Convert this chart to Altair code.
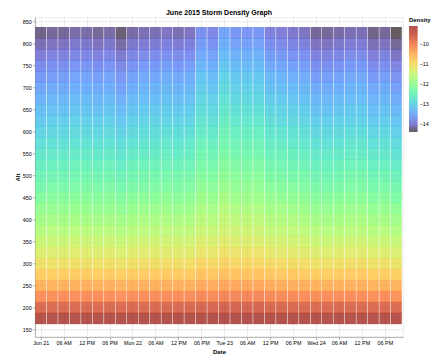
import altair as alt
import pandas as pd

# Time columns (3-hourly, local time) and altitude rows (km)
times = [
    "2015-06-21T00:00:00", "2015-06-21T03:00:00", "2015-06-21T06:00:00", "2015-06-21T09:00:00",
    "2015-06-21T12:00:00", "2015-06-21T15:00:00", "2015-06-21T18:00:00", "2015-06-21T21:00:00",
    "2015-06-22T00:00:00", "2015-06-22T03:00:00", "2015-06-22T06:00:00", "2015-06-22T09:00:00",
    "2015-06-22T12:00:00", "2015-06-22T15:00:00", "2015-06-22T18:00:00", "2015-06-22T21:00:00",
    "2015-06-23T00:00:00", "2015-06-23T03:00:00", "2015-06-23T06:00:00", "2015-06-23T09:00:00",
    "2015-06-23T12:00:00", "2015-06-23T15:00:00", "2015-06-23T18:00:00", "2015-06-23T21:00:00",
    "2015-06-24T00:00:00", "2015-06-24T03:00:00", "2015-06-24T06:00:00", "2015-06-24T09:00:00",
    "2015-06-24T12:00:00", "2015-06-24T15:00:00", "2015-06-24T18:00:00", "2015-06-24T21:00:00",
]
altitudes = [175, 200, 225, 250, 275, 300, 325, 350, 375, 400, 425, 450, 475, 500,
             525, 550, 575, 600, 625, 650, 675, 700, 725, 750, 775, 800, 825]

# x-axis tick positions (every 6 hours)
tick_times = [
    "2015-06-21T00:00:00", "2015-06-21T06:00:00", "2015-06-21T12:00:00", "2015-06-21T18:00:00",
    "2015-06-22T00:00:00", "2015-06-22T06:00:00", "2015-06-22T12:00:00", "2015-06-22T18:00:00",
    "2015-06-23T00:00:00", "2015-06-23T06:00:00", "2015-06-23T12:00:00", "2015-06-23T18:00:00",
    "2015-06-24T00:00:00", "2015-06-24T06:00:00", "2015-06-24T12:00:00", "2015-06-24T18:00:00",
]
alt_ticks = [150, 200, 250, 300, 350, 400, 450, 500, 550, 600, 650, 700, 750, 800, 850]
legend_ticks = [-10, -11, -12, -13, -14]

# log10 density, one row per altitude (same order as `altitudes`), one value per time
density_rows = [
    [-9.21,-9.20,-9.20,-9.19,-9.19,-9.20,-9.19,-9.21,-9.19,-9.19,-9.19,-9.18,-9.19,-9.18,-9.15,-9.16,-9.13,-9.15,-9.15,-9.15,-9.17,-9.17,-9.18,-9.18,-9.20,-9.20,-9.19,-9.19,-9.19,-9.21,-9.20,-9.22],
    [-9.73,-9.72,-9.72,-9.71,-9.71,-9.72,-9.71,-9.73,-9.71,-9.71,-9.71,-9.70,-9.71,-9.70,-9.66,-9.67,-9.63,-9.65,-9.65,-9.65,-9.68,-9.68,-9.69,-9.70,-9.72,-9.72,-9.71,-9.71,-9.71,-9.73,-9.72,-9.74],
    [-10.15,-10.14,-10.14,-10.13,-10.13,-10.14,-10.13,-10.16,-10.13,-10.12,-10.12,-10.11,-10.12,-10.11,-10.06,-10.08,-10.03,-10.05,-10.05,-10.05,-10.09,-10.10,-10.10,-10.11,-10.14,-10.14,-10.13,-10.12,-10.12,-10.15,-10.14,-10.17],
    [-10.52,-10.51,-10.51,-10.50,-10.50,-10.51,-10.50,-10.53,-10.50,-10.49,-10.49,-10.48,-10.49,-10.48,-10.41,-10.44,-10.37,-10.40,-10.40,-10.40,-10.45,-10.46,-10.47,-10.48,-10.51,-10.51,-10.50,-10.49,-10.49,-10.52,-10.51,-10.54],
    [-10.83,-10.82,-10.82,-10.81,-10.81,-10.82,-10.81,-10.84,-10.81,-10.80,-10.80,-10.78,-10.80,-10.78,-10.71,-10.73,-10.66,-10.70,-10.70,-10.70,-10.75,-10.76,-10.77,-10.78,-10.82,-10.82,-10.81,-10.80,-10.80,-10.83,-10.82,-10.86],
    [-11.09,-11.08,-11.08,-11.07,-11.07,-11.08,-11.07,-11.11,-11.07,-11.05,-11.05,-11.04,-11.05,-11.04,-10.95,-10.98,-10.89,-10.94,-10.94,-10.94,-10.99,-11.01,-11.02,-11.04,-11.08,-11.08,-11.07,-11.05,-11.05,-11.09,-11.08,-11.12],
    [-11.31,-11.29,-11.29,-11.27,-11.27,-11.29,-11.27,-11.32,-11.27,-11.26,-11.26,-11.24,-11.26,-11.24,-11.15,-11.18,-11.08,-11.13,-11.13,-11.13,-11.19,-11.21,-11.23,-11.24,-11.29,-11.29,-11.27,-11.26,-11.26,-11.31,-11.29,-11.34],
    [-11.49,-11.47,-11.47,-11.45,-11.45,-11.47,-11.45,-11.51,-11.45,-11.43,-11.43,-11.42,-11.43,-11.42,-11.31,-11.35,-11.24,-11.29,-11.29,-11.29,-11.36,-11.38,-11.40,-11.42,-11.47,-11.47,-11.45,-11.43,-11.43,-11.49,-11.47,-11.52],
    [-11.68,-11.66,-11.66,-11.64,-11.64,-11.66,-11.64,-11.70,-11.64,-11.62,-11.62,-11.60,-11.62,-11.60,-11.48,-11.52,-11.40,-11.46,-11.46,-11.46,-11.54,-11.56,-11.58,-11.60,-11.66,-11.66,-11.64,-11.62,-11.62,-11.68,-11.66,-11.72],
    [-11.83,-11.81,-11.81,-11.79,-11.79,-11.81,-11.79,-11.85,-11.79,-11.77,-11.77,-11.75,-11.77,-11.75,-11.62,-11.66,-11.53,-11.59,-11.59,-11.59,-11.68,-11.70,-11.72,-11.75,-11.81,-11.81,-11.79,-11.77,-11.77,-11.83,-11.81,-11.87],
    [-11.99,-11.97,-11.97,-11.95,-11.95,-11.97,-11.95,-12.02,-11.95,-11.92,-11.92,-11.90,-11.92,-11.90,-11.76,-11.81,-11.67,-11.74,-11.74,-11.74,-11.83,-11.85,-11.88,-11.90,-11.97,-11.97,-11.95,-11.92,-11.92,-11.99,-11.97,-12.04],
    [-12.16,-12.13,-12.13,-12.10,-12.10,-12.13,-12.10,-12.18,-12.10,-12.08,-12.08,-12.05,-12.08,-12.05,-11.90,-11.95,-11.80,-11.88,-11.88,-11.88,-11.98,-12.00,-12.03,-12.05,-12.13,-12.13,-12.10,-12.08,-12.08,-12.16,-12.13,-12.21],
    [-12.31,-12.28,-12.28,-12.25,-12.25,-12.28,-12.25,-12.33,-12.25,-12.23,-12.23,-12.20,-12.23,-12.20,-12.04,-12.09,-11.93,-12.01,-12.01,-12.01,-12.12,-12.15,-12.17,-12.20,-12.28,-12.28,-12.25,-12.23,-12.23,-12.31,-12.28,-12.36],
    [-12.44,-12.41,-12.41,-12.38,-12.38,-12.41,-12.38,-12.47,-12.38,-12.35,-12.35,-12.32,-12.35,-12.32,-12.15,-12.21,-12.04,-12.12,-12.12,-12.12,-12.24,-12.27,-12.30,-12.32,-12.41,-12.41,-12.38,-12.35,-12.35,-12.44,-12.41,-12.50],
    [-12.57,-12.54,-12.54,-12.51,-12.51,-12.54,-12.51,-12.60,-12.51,-12.48,-12.48,-12.45,-12.48,-12.45,-12.27,-12.33,-12.14,-12.23,-12.23,-12.23,-12.36,-12.39,-12.42,-12.45,-12.54,-12.54,-12.51,-12.48,-12.48,-12.57,-12.54,-12.63],
    [-12.70,-12.67,-12.67,-12.64,-12.64,-12.67,-12.64,-12.73,-12.64,-12.61,-12.61,-12.57,-12.61,-12.57,-12.38,-12.44,-12.25,-12.35,-12.35,-12.35,-12.48,-12.51,-12.54,-12.57,-12.67,-12.67,-12.64,-12.61,-12.61,-12.70,-12.67,-12.77],
    [-12.83,-12.80,-12.80,-12.77,-12.77,-12.80,-12.77,-12.87,-12.77,-12.73,-12.73,-12.70,-12.73,-12.70,-12.49,-12.56,-12.36,-12.46,-12.46,-12.46,-12.60,-12.63,-12.66,-12.70,-12.80,-12.80,-12.77,-12.73,-12.73,-12.83,-12.80,-12.90],
    [-12.97,-12.93,-12.93,-12.89,-12.89,-12.93,-12.89,-13.00,-12.89,-12.86,-12.86,-12.82,-12.86,-12.82,-12.61,-12.68,-12.46,-12.57,-12.57,-12.57,-12.71,-12.75,-12.79,-12.82,-12.93,-12.93,-12.89,-12.86,-12.86,-12.97,-12.93,-13.04],
    [-13.11,-13.07,-13.07,-13.03,-13.03,-13.07,-13.03,-13.15,-13.03,-12.99,-12.99,-12.96,-12.99,-12.96,-12.73,-12.81,-12.58,-12.69,-12.69,-12.69,-12.84,-12.88,-12.92,-12.96,-13.07,-13.07,-13.03,-12.99,-12.99,-13.11,-13.07,-13.18],
    [-13.24,-13.20,-13.20,-13.16,-13.16,-13.20,-13.16,-13.28,-13.16,-13.12,-13.12,-13.08,-13.12,-13.08,-12.84,-12.92,-12.69,-12.80,-12.80,-12.80,-12.96,-13.00,-13.04,-13.08,-13.20,-13.20,-13.16,-13.12,-13.12,-13.24,-13.20,-13.32],
    [-13.37,-13.33,-13.33,-13.29,-13.29,-13.33,-13.29,-13.41,-13.29,-13.25,-13.25,-13.21,-13.25,-13.21,-12.96,-13.04,-12.79,-12.92,-12.92,-12.92,-13.08,-13.12,-13.16,-13.21,-13.33,-13.33,-13.29,-13.25,-13.25,-13.37,-13.33,-13.45],
    [-13.50,-13.46,-13.46,-13.42,-13.42,-13.46,-13.42,-13.55,-13.42,-13.37,-13.37,-13.33,-13.37,-13.33,-13.07,-13.16,-12.90,-13.03,-13.03,-13.03,-13.20,-13.24,-13.29,-13.33,-13.46,-13.46,-13.42,-13.37,-13.37,-13.50,-13.46,-13.59],
    [-13.64,-13.59,-13.59,-13.54,-13.54,-13.59,-13.54,-13.68,-13.54,-13.50,-13.50,-13.45,-13.50,-13.45,-13.18,-13.27,-13.00,-13.14,-13.14,-13.14,-13.32,-13.36,-13.41,-13.45,-13.59,-13.59,-13.54,-13.50,-13.50,-13.64,-13.59,-13.73],
    [-13.79,-13.74,-13.74,-13.69,-13.69,-13.74,-13.69,-13.83,-13.69,-13.65,-13.65,-13.60,-13.65,-13.60,-13.32,-13.41,-13.13,-13.27,-13.27,-13.27,-13.46,-13.51,-13.55,-13.60,-13.74,-13.74,-13.69,-13.65,-13.65,-13.79,-13.74,-13.88],
    [-13.95,-13.90,-13.90,-13.85,-13.85,-13.90,-13.85,-14.00,-13.85,-13.80,-13.80,-13.75,-13.80,-13.75,-13.46,-13.56,-13.27,-13.41,-13.41,-13.41,-13.61,-13.66,-13.71,-13.75,-13.90,-13.90,-13.85,-13.80,-13.80,-13.95,-13.90,-14.05],
    [-14.11,-14.06,-14.06,-14.01,-14.01,-14.06,-14.01,-14.16,-14.01,-13.96,-13.96,-13.91,-13.96,-13.91,-13.61,-13.71,-13.41,-13.56,-13.56,-13.56,-13.76,-13.81,-13.86,-13.91,-14.06,-14.06,-14.01,-13.96,-13.96,-14.11,-14.06,-14.21],
    [-14.26,-14.21,-14.21,-14.16,-14.16,-14.21,-14.16,-14.31,-14.16,-14.11,-14.11,-14.05,-14.11,-14.05,-13.74,-13.84,-13.53,-13.69,-13.69,-13.69,-13.90,-13.95,-14.00,-14.05,-14.21,-14.21,-14.16,-14.11,-14.11,-14.26,-14.21,-14.37],
]

records = []
for alt_km, row in zip(altitudes, density_rows):
    for t, v in zip(times, row):
        ts = pd.Timestamp(t)
        records.append({
            "t0": (ts - pd.Timedelta(minutes=86)).strftime("%Y-%m-%dT%H:%M:%S"),
            "t1": (ts + pd.Timedelta(minutes=86)).strftime("%Y-%m-%dT%H:%M:%S"),
            "a0": alt_km - 13,
            "a1": alt_km + 13,
            "Density": v,
        })
df = pd.DataFrame(records)

s = 0.5414

def dt(iso):
    ts = pd.Timestamp(iso)
    return alt.DateTime(year=ts.year, month=ts.month, date=ts.day, hours=ts.hour, minutes=ts.minute)

chart = alt.Chart(df).mark_rect(opacity=0.7).encode(
    x=alt.X("t0:T", title="Date",
            scale=alt.Scale(domain=[dt("2015-06-20T22:30:00"), dt("2015-06-24T22:45:00")], nice=False),
            axis=alt.Axis(values=[dt(t) for t in tick_times])),
    x2="t1:T",
    y=alt.Y("a0:Q", title="Alt",
            scale=alt.Scale(domain=[133, 860], nice=False, zero=False),
            axis=alt.Axis(values=alt_ticks)),
    y2="a1:Q",
    color=alt.Color("Density:Q", title="Density", scale=alt.Scale(scheme="turbo"),
                    legend=alt.Legend(values=legend_ticks)),
).properties(
    width=368, height=319.6,
    title="June 2015 Storm Density Graph",
    autosize=alt.AutoSizeParams(type="none"),
    padding={"left": 27, "top": 9.3, "right": 28, "bottom": 17.1},
).configure_axis(
    labelFontSize=10 * s, titleFontSize=11 * s, tickSize=5 * s,
    labelPadding=2 * s, titlePadding=1.9,
    gridWidth=0.6, domainWidth=0.6, tickWidth=0.6,
).configure_title(
    fontSize=13 * s, offset=1,
).configure_legend(
    gradientLength=106, gradientThickness=16 * s,
    titleFontSize=11 * s, labelFontSize=10 * s,
    offset=6, titlePadding=5 * s, labelOffset=4 * s, padding=0,
).configure_view(strokeWidth=0.6)

chart.save("out.html", embed_options={"renderer": "svg", "actions": False})
